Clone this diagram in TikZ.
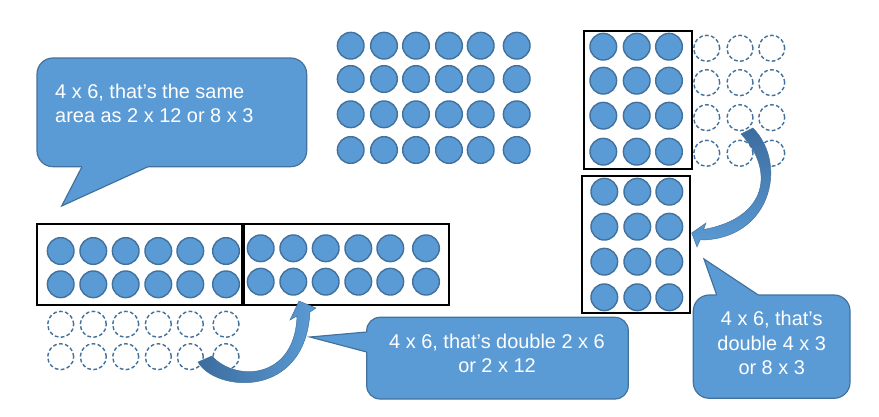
\documentclass[tikz,border=0pt]{standalone}
\usepackage{fontspec}
\setmainfont{Liberation Sans}
\usetikzlibrary{positioning}
\definecolor{DotBlue}{RGB}{91,155,213}
\definecolor{DotEdge}{RGB}{65,113,156}
\definecolor{ArrowDark}{RGB}{60,108,158}
\tikzset{
  dotfull/.style={circle,draw=DotEdge,fill=DotBlue,line width=1.2pt,
    minimum size=0.8cm,inner sep=0pt},
  dotempty/.style={circle,draw=DotEdge,line width=1.2pt,
    dash pattern=on 3.2pt off 2pt,minimum size=0.78cm,inner sep=0pt},
  groupbox/.style={draw=black,line width=2pt},
  calloutbox/.style={draw=DotEdge,fill=DotBlue,line width=1pt},
  calloutedge/.style={draw=DotEdge,line width=1pt,line join=miter},
  callouttext/.style={text=white,inner sep=0pt,
    font=\fontsize{17}{21}\selectfont},
  curvearrow/.style={draw=DotEdge,line width=0.4pt},
}

\begin{document}
\begin{tikzpicture}[x=0.03cm,y=-0.03cm]
  \useasboundingbox (0,0) rectangle (879,416);

  % 4 x 6 array
  \foreach \y [count=\r] in {45.7,79,114.3,150}
    \foreach \x [count=\c] in {350.7,384,416,449,480.7,516.7}
      \node[dotfull] (mid-\r-\c) at (\x,\y) {};

  % 4 x 3 halves on the right
  \foreach \y [count=\r] in {46.7,80.7,115.7,151.7}
    \foreach \x [count=\c] in {603.3,636.7,669}
      \node[dotfull] (rtop-\r-\c) at (\x,\y) {};
  \foreach \y [count=\r] in {48.3,82.7,117.7,153.3}
    \foreach \x [count=\c] in {706.7,740,771.7}
      \node[dotempty] (rgap-\r-\c) at (\x,\y) {};
  \foreach \y [count=\r] in {191.7,226.7,261.7,297.3}
    \foreach \x [count=\c] in {604.3,637.3,669.3}
      \node[dotfull] (rbot-\r-\c) at (\x,\y) {};
  \draw[groupbox] (584,31) rectangle (691.7,169);
  \draw[groupbox] (581.7,176) rectangle (690,313);

  % 2 x 6 halves on the left
  \foreach \y [count=\r] in {251,284.3}
    \foreach \x [count=\c] in {60.7,93.3,125.7,158.3,190.3,226}
      \node[dotfull] (lone-\r-\c) at (\x,\y) {};
  \foreach \y [count=\r] in {248.3,281.7}
    \foreach \x [count=\c] in {260.7,293.3,325.7,358.3,390.3,426}
      \node[dotfull] (ltwo-\r-\c) at (\x,\y) {};
  \foreach \y [count=\r] in {324.3,356.7}
    \foreach \x [count=\c] in {60.7,93.3,125.7,158.3,190.3,226}
      \node[dotempty] (lgap-\r-\c) at (\x,\y) {};
  \draw[groupbox] (36.7,224) rectangle (242.3,305);
  \draw[groupbox] (244.3,224) rectangle (449.3,305);

  % curved block arrows
  \draw[curvearrow,top color=ArrowDark,bottom color=DotBlue]
    (741,134) -- (753,128) .. controls (789,165) and (770,240) .. (700,240)
    -- (697,247) -- (691.7,233) -- (706,223) -- (703.6,229.5)
    .. controls (768,218) and (775,170) .. (741,134) -- cycle;
  \draw[curvearrow,left color=ArrowDark,right color=DotBlue]
    (212,356) -- (198,362) .. controls (215,392) and (305,400) .. (310,312)
    -- (316,308) -- (299,301) -- (290,320) -- (297,316)
    .. controls (295,380) and (235,382) .. (212,356) -- cycle;

  % callouts
  \draw[calloutbox,rounded corners=0.48cm] (37,58) rectangle (306.7,166.7);
  \fill[DotBlue] (82,162) -- (82,166.7) -- (61.7,206) -- (148,166.7) -- (148,162) -- cycle;
  \draw[calloutedge] (82,166.7) -- (61.7,206) -- (148,166.7);
  \node[callouttext,anchor=west,align=left] (sametext) at (55,103.5)
    {4 x 6, that’s the same\\area as 2 x 12 or 8 x 3};

  \draw[calloutbox,rounded corners=0.4cm] (366.7,317.3) rectangle (628.3,399);
  \fill[DotBlue] (371,332) -- (366.7,332) -- (310,337) -- (366.7,352) -- (371,352) -- cycle;
  \draw[calloutedge] (366.7,332) -- (310,337) -- (366.7,352);
  \node[callouttext,align=center] (doubletext) at (497,353.5)
    {4 x 6, that’s double 2 x 6\\or 2 x 12};

  \draw[calloutbox,rounded corners=0.48cm] (693.3,295) rectangle (850,398.3);
  \fill[DotBlue] (716.7,299) -- (716.7,295) -- (704,259) -- (758.3,295) -- (758.3,299) -- cycle;
  \draw[calloutedge] (716.7,295) -- (704,259) -- (758.3,295);
  \node[callouttext,align=center] (threetext) at (771.7,343)
    {4 x 6, that’s\\double 4 x 3\\or 8 x 3};
\end{tikzpicture}
\end{document}
